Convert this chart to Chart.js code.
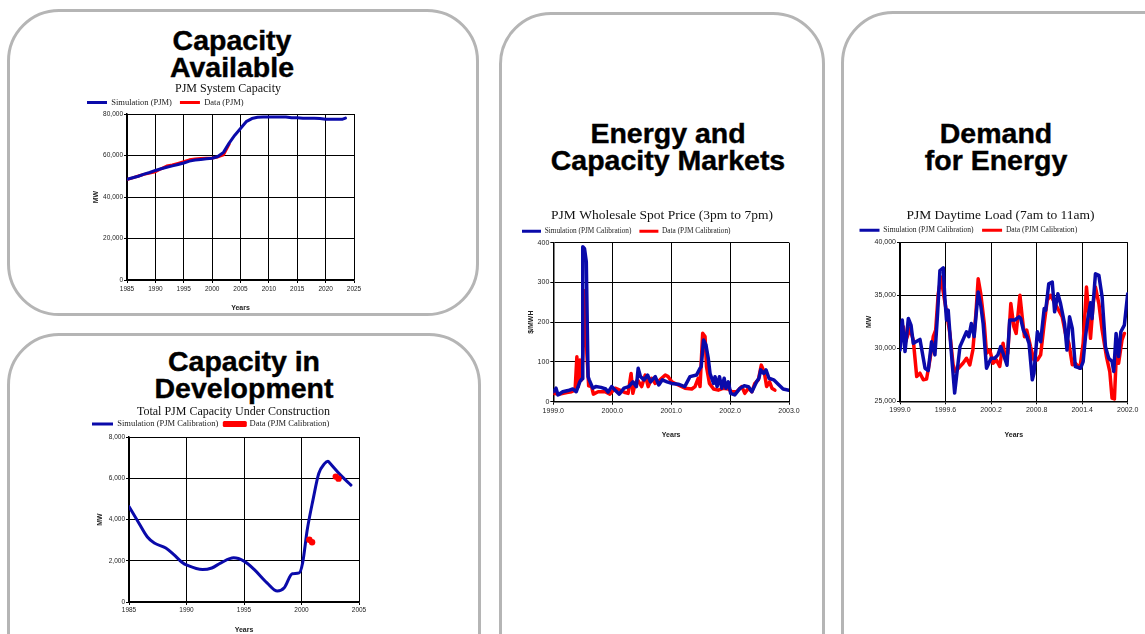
<!DOCTYPE html>
<html><head><meta charset="utf-8">
<script src="https://cdn.jsdelivr.net/npm/chart.js@4.4.1/dist/chart.umd.min.js"></script>
<style>
html,body{margin:0;padding:0;background:#fff;width:1145px;height:634px;overflow:hidden;position:relative}
.panel{position:absolute;box-sizing:border-box;border:3px solid #b5b5b5;border-radius:52px;background:#fff}
.head{position:absolute;font-family:'Liberation Sans',Arial,sans-serif;font-weight:bold;font-size:28.5px;line-height:26.7px;text-align:center;color:#000;-webkit-text-stroke:0.4px #000;white-space:nowrap;transform:translateX(-50%)}
canvas{position:absolute}
</style></head><body>
<div class="panel" style="left:7px;top:9px;width:472px;height:307px"></div>
<div class="panel" style="left:7px;top:333px;width:474px;height:400px"></div>
<div class="panel" style="left:499px;top:12px;width:326px;height:700px"></div>
<div class="panel" style="left:841px;top:11px;width:400px;height:700px"></div>
<div class="head" style="left:232px;top:26.8px">Capacity<br>Available</div>
<div class="head" style="left:244px;top:347.8px">Capacity in<br>Development</div>
<div class="head" style="left:668px;top:120.3px">Energy and<br>Capacity Markets</div>
<div class="head" style="left:996px;top:120.3px">Demand<br>for Energy</div>
<canvas id="c1"></canvas>
<canvas id="c2"></canvas>
<canvas id="c3"></canvas>
<canvas id="c4"></canvas>
<script>
// ---------- Chart 1: PJM System Capacity ----------
const capSimYears = [1985,1986,1987,1988,1989,1990,1991,1992,1993,1994,1995,1996,1997,1998,1999,2000,2001,2002,2003,2004,2005,2006,2007,2008,2009,2010,2011,2012,2013,2014,2015,2016,2017,2018,2019,2020,2021,2022,2023,2023.5];
const capSim = [48500,49300,50000,51000,51800,52800,53600,54300,55000,55700,56400,57300,57800,58100,58400,58700,59500,61500,66000,69800,73000,76300,77800,78400,78600,78600,78600,78500,78500,78200,78200,77900,77900,77900,77800,77500,77500,77500,77500,78000];
const capDataYears = [1985,1986,1987,1988,1989,1990,1991,1992,1993,1994,1995,1996,1997,1998,1999,2000,2001,2002,2003];
const capData = [48400,49200,50100,50900,51500,52200,53600,54900,55400,56200,57000,57900,58300,58500,58700,58800,59300,60300,65500];
const capXTicks = [1985,1990,1995,2000,2005,2010,2015,2020,2025];
const capYTicks = [0,20000,40000,60000,80000];

// ---------- Chart 2: Total PJM Capacity Under Construction ----------
const devSimYears = [1985,1985.7,1986.6,1987.2,1988.2,1988.9,1989.6,1990.1,1991.4,1992.2,1993.0,1994.1,1995.0,1995.9,1997.0,1997.9,1998.5,1999.2,1999.8,2000.1,2000.5,2001.0,2001.5,2002.0,2002.3,2002.5,2003.4,2004.3];
const devSim = [4630,3980,3150,2860,2620,2300,1930,1770,1570,1650,1900,2140,1980,1570,930,530,690,1370,1410,1900,3500,4950,6230,6710,6830,6710,6150,5670];
const devDataYears = [2000.68,2000.92,2002.98,2003.22];
const devData = [3020,2900,6080,5980];
const devXTicks = [1985,1990,1995,2000,2005];
const devYTicks = [0,2000,4000,6000,8000];

// ---------- Chart 3: PJM Wholesale Spot Price ----------
const priceSimT = [1999.0,1999.046,1999.08,1999.16,1999.25,1999.33,1999.39,1999.45,1999.49,1999.50,1999.53,1999.56,1999.59,1999.61,1999.67,1999.72,1999.81,1999.89,1999.93,1999.99,2000.05,2000.12,2000.20,2000.28,2000.35,2000.41,2000.44,2000.48,2000.54,2000.60,2000.65,2000.73,2000.79,2000.85,2000.93,2001.01,2001.12,2001.23,2001.32,2001.43,2001.49,2001.51,2001.55,2001.59,2001.63,2001.66,2001.72,2001.745,2001.78,2001.82,2001.86,2001.90,2001.93,2001.97,2002.01,2002.08,2002.17,2002.24,2002.31,2002.37,2002.45,2002.49,2002.52,2002.57,2002.61,2002.66,2002.74,2002.83,2002.90,2003.0];
const priceSim = [25,34,17,25,28,32,25,50,58,390,385,352,63,55,34,38,36,32,24,38,29,19,34,38,50,38,84,63,55,67,50,63,42,55,50,46,44,38,63,67,84,88,155,143,109,71,46,63,38,63,34,59,34,50,21,17,34,40,38,25,50,59,80,71,80,59,55,42,32,29];
const priceDataT = [1999.0,1999.11,1999.23,1999.31,1999.37,1999.40,1999.425,1999.45,1999.48,1999.51,1999.54,1999.57,1999.60,1999.65,1999.68,1999.76,1999.88,1999.96,2000.05,2000.13,2000.22,2000.27,2000.32,2000.35,2000.39,2000.43,2000.50,2000.56,2000.61,2000.67,2000.73,2000.81,2000.90,2000.95,2001.01,2001.12,2001.235,2001.35,2001.405,2001.46,2001.49,2001.535,2001.575,2001.60,2001.65,2001.72,2001.80,2001.89,2001.97,2002.03,2002.11,2002.20,2002.25,2002.31,2002.37,2002.42,2002.48,2002.53,2002.58,2002.62,2002.67,2002.71,2002.76];
const priceData = [21,19,23,25,29,113,38,105,55,150,280,120,40,38,19,25,25,19,34,29,23,21,71,21,46,55,38,67,38,59,46,55,67,63,50,42,34,32,38,59,38,172,164,88,46,32,29,34,32,25,25,38,21,34,25,46,55,92,75,38,50,34,29];
const priceXTicks = [1999,2000,2001,2002,2003];
const priceYTicks = [0,100,200,300,400];

// ---------- Chart 4: PJM Daytime Load ----------
const loadSimT = [1999.0,1999.03,1999.066,1999.11,1999.145,1999.175,1999.263,1999.33,1999.372,1999.416,1999.46,1999.495,1999.526,1999.57,1999.59,1999.613,1999.635,1999.67,1999.72,1999.79,1999.876,1999.907,1999.94,1999.977,2000.03,2000.064,2000.095,2000.14,2000.2,2000.248,2000.29,2000.327,2000.358,2000.41,2000.445,2000.51,2000.568,2000.59,2000.625,2000.67,2000.70,2000.743,2000.765,2000.81,2000.853,2000.90,2000.92,2000.96,2001.006,2001.037,2001.08,2001.115,2001.168,2001.2,2001.234,2001.27,2001.31,2001.38,2001.413,2001.444,2001.475,2001.51,2001.53,2001.575,2001.62,2001.663,2001.707,2001.75,2001.794,2001.816,2001.847,2001.88,2001.91,2001.956,2002.0];
const loadSim = [29840,32660,29690,32810,32190,30470,30840,28120,27900,30620,29380,33280,37340,37590,34840,32660,33600,30160,25780,30160,31560,31100,32340,31100,35310,34060,32340,28120,29060,29060,29380,30160,29530,28400,32660,32660,32970,32810,31720,31100,30470,27030,27650,31560,30620,33750,33600,36090,36250,33440,35150,34220,32340,29840,32970,31880,28280,28120,28750,31100,32810,34300,32800,37030,36880,34840,30160,29060,28750,27810,31400,29220,31560,32190,35150];
const loadDataT = [1999.0,1999.044,1999.074,1999.13,1999.175,1999.22,1999.263,1999.307,1999.35,1999.394,1999.438,1999.47,1999.504,1999.54,1999.58,1999.613,1999.657,1999.70,1999.73,1999.79,1999.83,1999.876,1999.92,1999.96,2000.0,2000.03,2000.064,2000.11,2000.14,2000.183,2000.226,2000.27,2000.314,2000.358,2000.39,2000.42,2000.46,2000.50,2000.53,2000.58,2000.61,2000.64,2000.67,2000.72,2000.765,2000.81,2000.853,2000.90,2000.94,2000.984,2001.03,2001.09,2001.137,2001.18,2001.225,2001.27,2001.31,2001.37,2001.413,2001.457,2001.49,2001.51,2001.545,2001.575,2001.62,2001.663,2001.72,2001.764,2001.794,2001.825,2001.85,2001.88,2001.925,2001.956];
const loadData = [30780,32030,30620,31880,30780,27340,27650,27030,27100,28900,31100,31720,35150,36720,34840,33440,31400,28440,27810,28280,28590,29060,28440,29840,33280,36560,35150,32340,29530,29840,28590,28900,28280,30470,28900,29530,34220,32030,31400,35000,32970,31100,31720,30160,28900,28900,29380,32340,34530,35000,34380,33600,32970,31400,30470,28440,28590,28120,30470,35780,32970,30940,34220,35780,34220,31720,29220,27810,25310,25220,29380,28590,30780,31400];
const loadXTicks = [1999.0,1999.6,2000.2,2000.8,2001.4,2002.0];
const loadYTicks = [25000,30000,35000,40000];

const BLUE = '#0a0aaa', RED = '#ff0000';
Chart.defaults.font.family = "'Liberation Sans', Arial, sans-serif";

const zip = (xs, ys) => xs.map((x, i) => ({x: x, y: ys[i]}));
const comma = v => Number(v).toLocaleString('en-US');

function legendLabels(chart) {
  const items = Chart.defaults.plugins.legend.labels.generateLabels(chart);
  items.forEach(it => {
    const ds = chart.data.datasets[it.datasetIndex];
    it.fillStyle = ds.borderColor;
    it.strokeStyle = ds.borderColor;
    it.lineWidth = ds.legendStroke || 0;
    it.lineJoin = 'round';
    it.lineDash = [];
  });
  return items;
}

function build(id, o) {
  const cv = document.getElementById(id);
  cv.width = o.W; cv.height = o.H;
  cv.style.left = o.L + 'px'; cv.style.top = o.T + 'px';
  const axisCommon = (ticks, fmt, pad) => ({
    type: 'linear',
    afterBuildTicks: s => { s.ticks = ticks.map(v => ({value: v})); },
    ticks: {callback: fmt, font: {size: o.tf}, color: '#222', padding: pad, maxRotation: 0, autoSkip: false},
    grid: {color: '#000', lineWidth: 1, tickLength: 3, tickColor: '#000'},
    border: {color: '#000', width: 1.5}
  });
  const x = axisCommon(o.xTicks, o.xFmt, o.xPad);
  x.min = o.xTicks[0]; x.max = o.xTicks[o.xTicks.length - 1];
  x.title = {display: true, text: 'Years', font: {size: 7, weight: 'bold'}, color: '#222', padding: 0};
  x.afterFit = s => { s.height = o.xh; };
  const y = axisCommon(o.yTicks, o.yFmt, 1);
  y.min = o.yTicks[0]; y.max = o.yTicks[o.yTicks.length - 1];
  y.title = {display: true, text: o.yTitle, font: {size: 7, weight: 'bold'}, color: '#222', padding: {top: o.ytPad, bottom: 0}};
  y.afterFit = s => { s.width = o.yw; };
  return new Chart(cv, {
    type: 'line',
    data: {datasets: o.datasets},
    options: {
      responsive: false, animation: false, events: [],
      layout: {padding: 0},
      plugins: {
        title: {display: true, text: o.title, color: '#111',
          font: {family: "'Liberation Serif', 'Times New Roman', serif", size: o.tSize, weight: 'normal', lineHeight: 1},
          padding: {top: 0, bottom: o.tPb}},
        legend: {display: true, position: 'top', align: 'start', maxHeight: o.mh,
          labels: {font: {family: "'Liberation Serif', 'Times New Roman', serif", size: o.lSize}, color: '#222',
            boxWidth: o.bw, boxHeight: 3, padding: o.pl, generateLabels: legendLabels,
            sort: (a, b) => a.datasetIndex - b.datasetIndex}},
        tooltip: {enabled: false}
      },
      scales: {
        x: x, y: y,
        yR: {type: 'linear', position: 'right', display: true, grid: {display: false}, border: {display: false},
          ticks: {display: false}, afterFit: s => { s.width = o.rw; }}
      }
    }
  });
}

const line = (label, xs, ys, color, w, extra) => Object.assign({
  label: label, data: zip(xs, ys), borderColor: color, backgroundColor: color,
  borderWidth: w, pointRadius: 0, tension: 0, borderJoinStyle: 'round', borderCapStyle: 'round'
}, extra || {});

build('c1', {
  L: 79, T: 83, W: 298, H: 229, yw: 48, rw: 23, xh: 32, mh: 23.75,
  title: 'PJM System Capacity', tSize: 12, tPb: -4.75, lSize: 8.5, pl: 8, bw: 20,
  tf: 6.5, xPad: 2, ytPad: 12.8, yTitle: 'MW',
  xTicks: capXTicks, yTicks: capYTicks, xFmt: v => String(v), yFmt: comma,
  datasets: [
    line('Simulation (PJM)', capSimYears, capSim, BLUE, 3),
    line('Data (PJM)', capDataYears, capData, RED, 3)
  ]
});

build('c2', {
  L: 86, T: 406, W: 295, H: 228, yw: 43, rw: 22, xh: 32, mh: 23.25,
  title: 'Total PJM Capacity Under Construction', tSize: 12, tPb: -4.25, lSize: 8.5, pl: 6, bw: 21,
  tf: 6.5, xPad: 1, ytPad: 9.8, yTitle: 'MW',
  xTicks: devXTicks, yTicks: devYTicks, xFmt: v => String(v), yFmt: comma,
  datasets: [
    line('Simulation (PJM Calibration)', devSimYears, devSim, BLUE, 3, {cubicInterpolationMode: 'monotone', order: 1}),
    line('Data (PJM Calibration)', devDataYears, devData, RED, 0, {showLine: false, pointRadius: 3.2, pointBorderWidth: 0, pointBackgroundColor: RED, legendStroke: 3, order: 0})
  ]
});

build('c3', {
  L: 514, T: 209, W: 296, H: 230, yw: 39.3, rw: 21, xh: 37.3, mh: 23.05,
  title: 'PJM Wholesale Spot Price (3pm to 7pm)', tSize: 13.5, tPb: -2.85, lSize: 7.3, pl: 8, bw: 19,
  tf: 7, xPad: 2, ytPad: 12.8, yTitle: '$/MWH',
  xTicks: priceXTicks, yTicks: priceYTicks, xFmt: v => Number(v).toFixed(1), yFmt: v => String(v),
  datasets: [
    line('Simulation (PJM Calibration)', priceSimT, priceSim, BLUE, 3.5),
    line('Data (PJM Calibration)', priceDataT, priceData, RED, 3.5)
  ]
});

build('c4', {
  L: 851, T: 209, W: 299, H: 230, yw: 49, rw: 22.3, xh: 37.7, mh: 24.3,
  title: 'PJM Daytime Load (7am to 11am)', tSize: 13.5, tPb: -4.5, lSize: 7.6, pl: 8.5, bw: 20,
  tf: 7, xPad: 2, ytPad: 13.8, yTitle: 'MW',
  xTicks: loadXTicks, yTicks: loadYTicks, xFmt: v => Number(v).toFixed(1), yFmt: comma,
  datasets: [
    line('Simulation (PJM Calibration)', loadSimT, loadSim, BLUE, 3.5),
    line('Data (PJM Calibration)', loadDataT, loadData, RED, 3.5)
  ]
});
</script>
</body></html>
